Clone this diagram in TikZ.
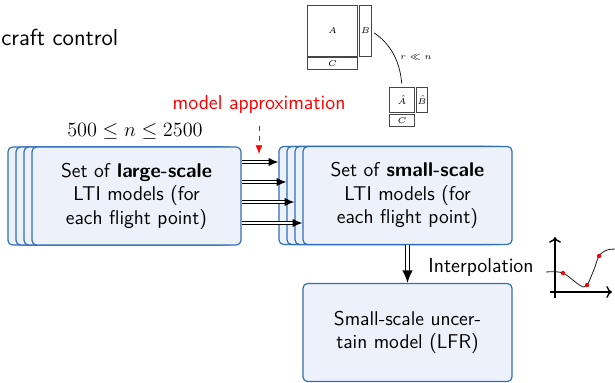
\documentclass[tikz,border=0pt]{standalone}
\usetikzlibrary{arrows.meta}

\definecolor{boxblue}{RGB}{47,111,183}
\definecolor{boxfill}{RGB}{236,241,250}
\definecolor{matgray}{RGB}{70,70,70}

\tikzset{
	modelbox/.style={draw=boxblue, fill=boxfill, line width=0.7pt, rounded corners=1mm,
		minimum width=43.5mm, minimum height=20.4mm, align=center,
		font=\sffamily\fontsize{11.8}{13.9}\selectfont},
	lbl/.style={font=\sffamily\fontsize{12}{14}\selectfont},
	dbl/.style={double, double distance=1.1pt, line width=0.6pt, -{Latex[length=2mm,width=1.7mm]}},
	dblbig/.style={double, double distance=1.8pt, line width=0.8pt, -{Latex[length=2.6mm,width=2.2mm]}},
	mat/.style={draw=matgray, line width=0.6pt, inner sep=0pt, font=\tiny},
	dot/.style={fill=red}
}

\begin{document}
\begin{tikzpicture}[x=0.208mm, y=-0.208mm]
\useasboundingbox (0,0) rectangle (615,382);

\node[anchor=base west, inner sep=0pt, font=\sffamily\fontsize{13.7}{16}\selectfont] (title) at (1,45) {craft control};

\foreach \dx [count=\i] in {24,16,8}
	\node[modelbox] (l\i) at (136.5-\dx,196) {};
\node[modelbox] (large) at (136.5,196) {Set of \textbf{large-scale}\\LTI models (for\\each flight point)};

\foreach \dx [count=\i] in {24,16,8}
	\node[modelbox] (s\i) at (407.5-\dx,195.5) {};
\node[modelbox] (s4) at (407.5,195.5) {Set of \textbf{small-scale}\\LTI models (for\\each flight point)};

\node[modelbox] (lfr) at (407.5,332.5) {Small-scale uncer-\\tain model (LFR)};

\foreach \i/\yy in {1/162,2/182,3/202,4/223}{
	\coordinate (r\i) at (0,\yy);
	\draw[dbl] (large.east |- r\i) -- (s\i.west |- r\i);
}

\draw[dblbig] (s4.south) -- (lfr.north);
\node[lbl] (interp) at (481,267) {Interpolation};

\node[lbl, text=red] (approx) at (259,104) {model approximation};
\coordinate (approxend) at (259,154);
\draw[red, dashed, -{Latex[length=1.8mm,width=1.4mm]}, shorten <=1.5mm] (approx.south) -- (approxend);

\node[font=\fontsize{11.8}{14}\selectfont] (nrange) at (135,131) {$500 \leq n \leq 2500$};

\node[mat, minimum width=10.6mm, minimum height=10.8mm] (A) at (332.5,31) {$A$};
\node[mat, minimum width=2.3mm, minimum height=10.8mm] (B) at (365.5,31) {$B$};
\node[mat, minimum width=10.6mm, minimum height=2.3mm] (C) at (332.5,63.5) {$C$};
\node[mat, minimum width=5.4mm, minimum height=5.4mm] (Ahat) at (402,100) {$\hat{A}$};
\node[mat, minimum width=2.1mm, minimum height=5.4mm] (Bhat) at (422,100) {$\hat{B}$};
\node[mat, minimum width=5.4mm, minimum height=2.3mm] (Chat) at (402,120.5) {$C$};
\draw[thin, shorten <=0.7mm, shorten >=0.6mm] (B.east) to[out=-35,in=95] (Ahat.north);
\node[font=\tiny] (rank) at (416,57) {$r \ll n$};

\draw[->, line width=0.8pt] (555,298) -- (555,237);
\draw[->, line width=0.8pt] (550,292) -- (612,292);
\draw[black!85, line width=0.5pt] plot[smooth] coordinates {(546,272) (563,273) (584,287) (593,272) (599,256) (607,250) (616,249)};
\foreach \px/\py in {563/273,587/285,599/256}
	\fill[dot] (\px,\py) circle (0.45mm);
\end{tikzpicture}
\end{document}
